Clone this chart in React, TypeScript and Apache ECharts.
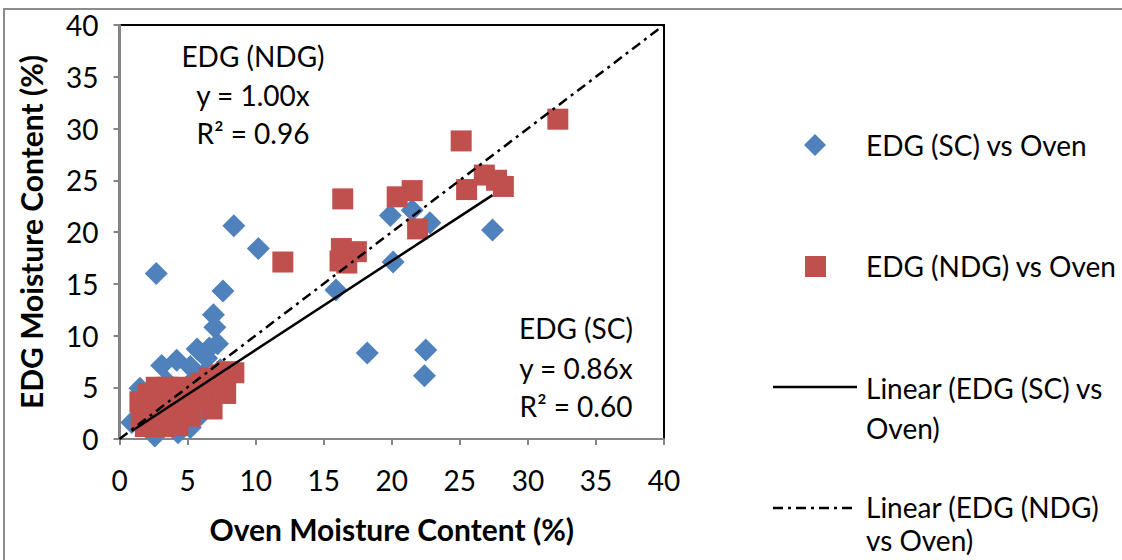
import React, { useEffect, useRef } from "react";
import * as echarts from "echarts";

const axisTicks = [0, 5, 10, 15, 20, 25, 30, 35, 40];

// EDG (SC) vs Oven
const scX = [0.9, 1.5, 1.9, 2.2, 2.6, 2.7, 2.9, 3.1, 3.3, 3.5, 3.9, 4.2, 4.3, 4.5, 4.8, 5.2, 5.2, 5.5, 5.7, 6.0, 6.2, 6.4, 6.5, 6.6, 6.9, 7.0, 7.2, 7.4, 7.6, 8.4, 10.2, 15.9, 18.2, 19.9, 20.1, 21.5, 22.4, 22.5, 22.8, 27.4];
const scY = [1.6, 4.9, 3.2, 2.0, 0.3, 16.0, 4.2, 7.1, 2.4, 5.5, 3.6, 7.6, 0.6, 4.5, 2.1, 7.0, 1.1, 5.8, 8.7, 2.4, 6.3, 7.8, 3.5, 8.8, 12.0, 10.8, 9.2, 6.7, 14.3, 20.6, 18.4, 14.4, 8.3, 21.6, 17.1, 22.1, 6.1, 8.6, 20.9, 20.2];

// EDG (NDG) vs Oven
const ndgX = [1.5, 1.6, 1.8, 1.9, 2.1, 2.3, 2.5, 2.7, 2.9, 3.1, 3.3, 3.5, 3.7, 3.9, 4.1, 4.3, 4.5, 4.7, 4.9, 5.1, 5.2, 5.6, 5.8, 6.0, 6.3, 6.6, 6.8, 7.1, 7.4, 7.8, 7.9, 8.4, 12.0, 16.2, 16.3, 16.4, 16.7, 17.4, 20.4, 21.5, 21.9, 25.1, 25.5, 26.8, 27.7, 28.2, 32.2];
const ndgY = [3.6, 1.8, 2.6, 1.2, 4.4, 3.0, 1.6, 5.0, 2.3, 4.0, 1.2, 5.0, 3.2, 2.0, 4.6, 1.3, 5.0, 3.6, 2.4, 4.7, 2.2, 5.0, 3.9, 5.4, 4.7, 5.9, 2.9, 5.2, 6.2, 4.4, 6.5, 6.4, 17.1, 17.2, 18.4, 23.2, 17.0, 18.1, 23.4, 24.0, 20.3, 28.8, 24.1, 25.5, 25.0, 24.4, 30.9];

// Linear trend lines (through origin)
const scSlope = 0.86;
const ndgSlope = 1.0;
const scRange = [0.9, 27.4];
const ndgRange = [0, 40];

const scLabel = ["EDG (SC)", "y = 0.86x", "R² = 0.60"];
const ndgLabel = ["EDG (NDG)", "y = 1.00x", "R² = 0.96"];
const legendNames = ["EDG (SC) vs Oven", "EDG (NDG) vs Oven", "Linear (EDG (SC) vs", "Oven)", "Linear (EDG (NDG)", "vs Oven)"];

const BLUE = "#4F81BD";
const RED = "#C0504D";
const FONT = "Lato, 'Open Sans', sans-serif";
const FS = 28;
const TITLE_FS = 30;
const DASHDOT = [10, 5, 3, 5];

export default function App() {
  const ref = useRef<HTMLDivElement>(null);
  useEffect(() => {
    if (!ref.current) return;
    const chart = echarts.init(ref.current, null, { renderer: "svg" });
    const scData = scX.map((x, i) => [x, scY[i]]);
    const ndgData = ndgX.map((x, i) => [x, ndgY[i]]);
    const scLine = scRange.map((x) => [x, x * scSlope]);
    const ndgLine = ndgRange.map((x) => [x, x * ndgSlope]);
    const txt = (s: string, x: number, y: number, align = "left") => ({
      type: "text",
      x,
      y,
      style: { text: s, fill: "#000", font: `${FS}px ${FONT}`, textAlign: align, textVerticalAlign: "middle" },
    });
    chart.setOption({
      animation: false,
      backgroundColor: "#fff",
      grid: { left: 119.5, top: 25, right: 458, bottom: 121, show: true, borderColor: "#000", borderWidth: 2, backgroundColor: "transparent" },
      xAxis: {
        type: "value",
        min: axisTicks[0],
        max: axisTicks[axisTicks.length - 1],
        interval: 5,
        name: "Oven Moisture Content (%)",
        nameLocation: "middle",
        nameGap: 75,
        nameTextStyle: { fontFamily: FONT, fontSize: TITLE_FS, fontWeight: "bold", color: "#000" },
        axisLine: { show: true, onZero: false, lineStyle: { color: "#868686", width: 2 } },
        axisTick: { show: true, length: 6, lineStyle: { color: "#868686", width: 2 } },
        axisLabel: { margin: 27, fontFamily: FONT, fontSize: FS, color: "#000" },
        splitLine: { show: false },
      },
      yAxis: {
        type: "value",
        min: axisTicks[0],
        max: axisTicks[axisTicks.length - 1],
        interval: 5,
        name: "EDG Moisture Content (%)",
        nameLocation: "middle",
        nameGap: 74,
        nameTextStyle: { fontFamily: FONT, fontSize: TITLE_FS, fontWeight: "bold", color: "#000" },
        axisLine: { show: true, onZero: false, lineStyle: { color: "#868686", width: 2 } },
        axisTick: { show: true, length: 6, lineStyle: { color: "#868686", width: 2 } },
        axisLabel: { margin: 21, fontFamily: FONT, fontSize: FS, color: "#000" },
        splitLine: { show: false },
      },
      series: [
        {
          name: "EDG (SC) vs Oven",
          type: "scatter",
          data: scData,
          symbol: "diamond",
          symbolSize: [23, 23],
          itemStyle: { color: BLUE, opacity: 1 },
          z: 2,
        },
        {
          name: "EDG (NDG) vs Oven",
          type: "scatter",
          data: ndgData,
          symbol: "rect",
          symbolSize: [21, 21],
          itemStyle: { color: RED, opacity: 1 },
          z: 3,
        },
        {
          name: "Linear (EDG (SC) vs Oven)",
          type: "line",
          data: scLine,
          showSymbol: false,
          symbol: "none",
          lineStyle: { color: "#000", width: 2.5, type: "solid" },
          z: 4,
        },
        {
          name: "Linear (EDG (NDG) vs Oven)",
          type: "line",
          data: ndgLine,
          showSymbol: false,
          symbol: "none",
          lineStyle: { color: "#000", width: 2.5, type: DASHDOT },
          z: 4,
        },
      ],
      graphic: [
        { type: "rect", shape: { x: 4, y: 9, width: 1300, height: 700 }, style: { fill: "none", stroke: "#8c8c8c", lineWidth: 2 }, z: 100 },
        txt(ndgLabel[0], 253, 56, "center"),
        txt(ndgLabel[1], 253, 95, "center"),
        txt(ndgLabel[2], 253, 133, "center"),
        txt(scLabel[0], 576, 328, "center"),
        txt(scLabel[1], 576, 368, "center"),
        txt(scLabel[2], 576, 406, "center"),
        { type: "polygon", shape: { points: [[815, 134], [826, 145], [815, 156], [804, 145]] }, style: { fill: BLUE } },
        { type: "rect", shape: { x: 805, y: 256, width: 21, height: 21 }, style: { fill: RED } },
        { type: "line", shape: { x1: 773, y1: 387, x2: 857, y2: 387 }, style: { stroke: "#000", lineWidth: 2.5 } },
        { type: "line", shape: { x1: 773, y1: 508, x2: 857, y2: 508 }, style: { stroke: "#000", lineWidth: 2.5, lineDash: DASHDOT } },
        txt(legendNames[0], 866, 145),
        txt(legendNames[1], 866, 266),
        txt(legendNames[2], 866, 388),
        txt(legendNames[3], 866, 428),
        txt(legendNames[4], 866, 507),
        txt(legendNames[5], 866, 540),
      ],
    });
    return () => chart.dispose();
  }, []);
  return <div ref={ref} style={{ position: "fixed", left: 0, top: 0, width: 1122, height: 560 }} />;
}
